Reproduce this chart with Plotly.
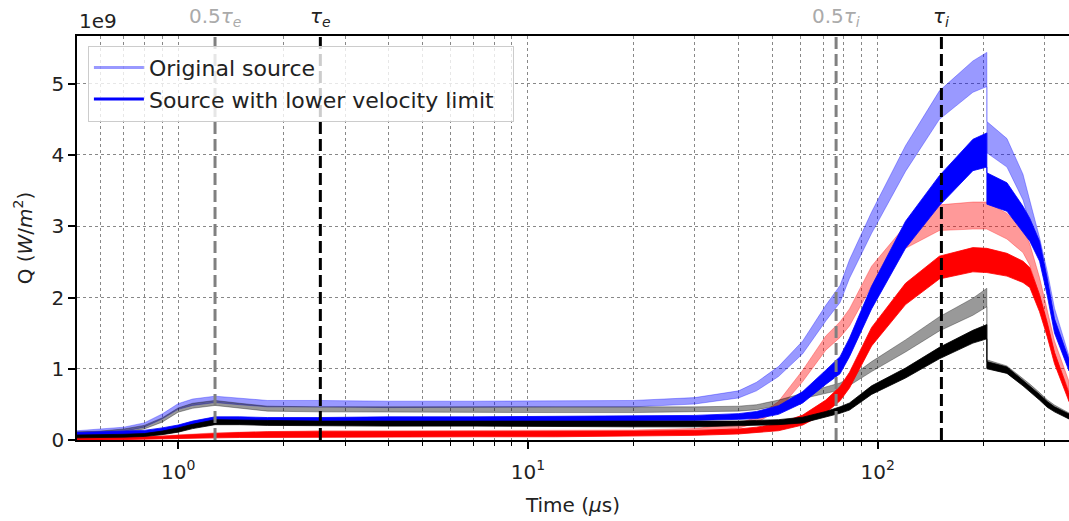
import math
import plotly.graph_objects as go

# ---- data (values in units of 1e9 W/m^2) ----
time_us = [0.514, 0.6, 0.7, 0.8, 0.9, 1.0, 1.1, 1.275, 1.5, 1.8, 2.5, 4, 7, 12, 20, 30,
           40, 45, 52, 61, 71, 78, 83, 96, 120, 150, 187, 205, 205, 234, 260, 272, 290,
           305, 320, 352]

orig_blue = [0.10, 0.12, 0.15, 0.21, 0.33, 0.47, 0.53, 0.57, 0.54, 0.51, 0.51, 0.50, 0.50,
             0.51, 0.51, 0.55, 0.64, 0.75, 0.96, 1.30, 1.78, 2.05, 2.40, 3.05, 3.95, 4.70,
             5.10, 5.20, 4.25, 4.03, 3.55, 3.20, 2.70, 2.25, 1.75, 1.10]
orig_blue_hw = [0.03, 0.03, 0.03, 0.03, 0.035, 0.04, 0.045, 0.045, 0.045, 0.045, 0.045, 0.045,
                0.045, 0.045, 0.045, 0.045, 0.05, 0.06, 0.07, 0.09, 0.11, 0.12, 0.13, 0.15,
                0.18, 0.20, 0.22, 0.24, 0.22, 0.20, 0.18, 0.16, 0.14, 0.12, 0.10, 0.08]

low_blue = [0.08, 0.09, 0.10, 0.11, 0.14, 0.18, 0.23, 0.29, 0.29, 0.28, 0.28, 0.29, 0.29,
            0.30, 0.30, 0.31, 0.33, 0.35, 0.42, 0.60, 0.88, 1.05, 1.30, 2.00, 2.88, 3.50,
            4.00, 4.07, 3.53, 3.41, 3.10, 2.95, 2.65, 2.15, 1.60, 1.05]
low_blue_hw = [0.025, 0.025, 0.025, 0.025, 0.03, 0.03, 0.035, 0.035, 0.035, 0.035, 0.035,
               0.035, 0.035, 0.035, 0.035, 0.035, 0.04, 0.05, 0.06, 0.08, 0.10, 0.12, 0.13,
               0.16, 0.19, 0.21, 0.22, 0.24, 0.22, 0.20, 0.18, 0.16, 0.14, 0.12, 0.10, 0.08]

orig_red = [0.02, 0.02, 0.03, 0.03, 0.04, 0.05, 0.06, 0.07, 0.08, 0.09, 0.10, 0.10, 0.10,
            0.10, 0.11, 0.13, 0.20, 0.28, 0.48, 0.90, 1.36, 1.55, 1.72, 2.30, 2.85, 3.12,
            3.15, 3.15, 3.15, 3.00, 2.80, 2.60, 2.15, 1.70, 1.30, 0.75]
orig_red_hw = [0.02, 0.02, 0.02, 0.02, 0.02, 0.025, 0.025, 0.03, 0.03, 0.03, 0.03, 0.03,
               0.03, 0.03, 0.03, 0.03, 0.035, 0.04, 0.06, 0.08, 0.10, 0.11, 0.12, 0.14,
               0.16, 0.18, 0.19, 0.19, 0.19, 0.18, 0.17, 0.15, 0.13, 0.11, 0.09, 0.07]

low_red = [0.02, 0.02, 0.02, 0.03, 0.03, 0.04, 0.05, 0.06, 0.07, 0.08, 0.08, 0.08, 0.08,
           0.08, 0.09, 0.10, 0.12, 0.14, 0.18, 0.28, 0.47, 0.65, 0.84, 1.45, 2.05, 2.42,
           2.53, 2.52, 2.52, 2.46, 2.36, 2.28, 1.92, 1.55, 1.15, 0.60]
low_red_hw = [0.02, 0.02, 0.02, 0.02, 0.02, 0.025, 0.025, 0.03, 0.035, 0.035, 0.035, 0.035,
              0.035, 0.035, 0.035, 0.035, 0.035, 0.04, 0.05, 0.07, 0.09, 0.10, 0.11, 0.13,
              0.15, 0.16, 0.17, 0.17, 0.17, 0.16, 0.15, 0.14, 0.12, 0.10, 0.08, 0.06]

orig_black = [0.09, 0.10, 0.13, 0.18, 0.28, 0.42, 0.48, 0.52, 0.48, 0.44, 0.43, 0.43, 0.42,
              0.42, 0.42, 0.43, 0.44, 0.46, 0.52, 0.62, 0.70, 0.75, 0.82, 1.03, 1.32, 1.63,
              1.87, 2.00, 1.07, 0.99, 0.82, 0.74, 0.62, 0.52, 0.45, 0.34]
orig_black_hw = [0.025, 0.025, 0.025, 0.025, 0.03, 0.03, 0.035, 0.035, 0.035, 0.035, 0.035,
                 0.035, 0.035, 0.035, 0.035, 0.035, 0.035, 0.035, 0.04, 0.04, 0.045, 0.05,
                 0.055, 0.07, 0.085, 0.10, 0.12, 0.13, 0.055, 0.05, 0.045, 0.045, 0.045,
                 0.045, 0.04, 0.04]

low_black = [0.05, 0.05, 0.06, 0.07, 0.10, 0.14, 0.19, 0.25, 0.25, 0.24, 0.23, 0.23, 0.23,
             0.23, 0.22, 0.22, 0.23, 0.24, 0.25, 0.28, 0.36, 0.42, 0.47, 0.70, 0.94, 1.22,
             1.45, 1.52, 1.05, 0.98, 0.80, 0.72, 0.60, 0.50, 0.43, 0.33]
low_black_hw = [0.02, 0.02, 0.02, 0.02, 0.025, 0.03, 0.03, 0.035, 0.035, 0.035, 0.035,
                0.035, 0.035, 0.035, 0.035, 0.035, 0.035, 0.035, 0.035, 0.04, 0.04, 0.045,
                0.05, 0.06, 0.07, 0.08, 0.09, 0.10, 0.05, 0.045, 0.04, 0.04, 0.04, 0.04,
                0.035, 0.035]

tau_e = 2.55
tau_i = 152.0

# drawing order: original sources first, then lower-velocity-limit sources on top
series = [
    (orig_blue, orig_blue_hw, "rgba(0,0,255,0.4)"),
    (orig_red, orig_red_hw, "rgba(255,0,0,0.4)"),
    (orig_black, orig_black_hw, "rgba(0,0,0,0.4)"),
    (low_blue, low_blue_hw, "rgb(0,0,255)"),
    (low_red, low_red_hw, "rgb(255,0,0)"),
    (low_black, low_black_hw, "rgb(0,0,0)"),
]

FONT = "DejaVu Sans"
FS = 20

fig = go.Figure()
for vals, hw, col in series:
    upper = [v + h for v, h in zip(vals, hw)]
    lower = [max(v - h, 0) for v, h in zip(vals, hw)]
    fig.add_trace(go.Scatter(
        x=time_us + time_us[::-1], y=upper + lower[::-1],
        fill="toself", fillcolor=col, mode="lines",
        line=dict(color=col, width=0.8), showlegend=False, hoverinfo="skip"))

# legend entries
fig.add_trace(go.Scatter(x=[None], y=[None], mode="lines", name="Original source  ",
                         line=dict(color="rgba(0,0,255,0.4)", width=3)))
fig.add_trace(go.Scatter(x=[None], y=[None], mode="lines",
                         name="Source with lower velocity limit  ",
                         line=dict(color="rgb(0,0,255)", width=3)))

vlines = [(0.5 * tau_e, "#808080", "0.5<i>τ<sub>e</sub></i>", "#aaaaaa"),
          (tau_e, "black", "<i>τ<sub>e</sub></i>", "#222222"),
          (0.5 * tau_i, "#808080", "0.5<i>τ<sub>i</sub></i>", "#aaaaaa"),
          (tau_i, "black", "<i>τ<sub>i</sub></i>", "#222222")]
for xv, lc, txt, tc in vlines:
    fig.add_shape(type="line", xref="x", yref="paper", x0=xv, x1=xv, y0=0, y1=1,
                  line=dict(color=lc, width=3, dash="12px,5px"), layer="above")
    fig.add_annotation(x=math.log10(xv), xref="x", y=1, yref="paper", yanchor="bottom",
                       yshift=4, text=txt, showarrow=False,
                       font=dict(family=FONT, size=FS, color=tc))

fig.add_annotation(x=0, xref="paper", y=1, yref="paper", xanchor="left", yanchor="bottom",
                   yshift=1, text="1e9", showarrow=False,
                   font=dict(family=FONT, size=FS, color="#222"))

fig.update_layout(
    width=1069, height=521,
    margin=dict(l=77, r=0, t=36, b=81),
    paper_bgcolor="white", plot_bgcolor="white",
    font=dict(family=FONT, size=FS, color="#222"),
    showlegend=True,
    legend=dict(x=0.011, y=0.976, xanchor="left", yanchor="top", itemwidth=50,
                bgcolor="rgba(255,255,255,0.8)", bordercolor="#cccccc", borderwidth=1,
                font=dict(family=FONT, size=22)),
    xaxis=dict(type="log", range=[math.log10(0.514), math.log10(352)],
               tickvals=[1, 10, 100],
               ticktext=["10<sup>0</sup>", "10<sup>1</sup>", "10<sup>2</sup>"],
               ticks="outside", ticklen=7, tickwidth=1.5, tickcolor="black",
               ticklabelstandoff=6,
               showline=True, linecolor="black", linewidth=1.5, mirror=True,
               showgrid=True, gridcolor="#888888", griddash="dot", gridwidth=1,
               minor=dict(tickvals=[0.6, 0.7, 0.8, 0.9, 2, 3, 4, 5, 6, 7, 8, 9,
                                    20, 30, 40, 50, 60, 70, 80, 90, 200, 300],
                          ticks="outside", ticklen=4, tickcolor="black", tickwidth=1,
                          showgrid=True, gridcolor="#888888", griddash="dot", gridwidth=1),
               automargin=False,
               title=dict(text="Time (<i>μ</i>s)", font=dict(family=FONT, size=FS)),
               zeroline=False),
    yaxis=dict(range=[0, 5.67], tickvals=[0, 1, 2, 3, 4, 5],
               ticks="outside", ticklen=7, tickwidth=1.5, tickcolor="black",
               showline=True, linecolor="black", linewidth=1.5, mirror=True,
               showgrid=True, gridcolor="#888888", griddash="dot", gridwidth=1,
               automargin=False,
               title=dict(text="Q (<i>W</i>/<i>m</i><sup>2</sup>)",
                          font=dict(family=FONT, size=FS), standoff=14),
               zeroline=False),
)

fig.write_html("out.html", config={"displayModeBar": False},
               post_script="document.body.style.margin='0';")
